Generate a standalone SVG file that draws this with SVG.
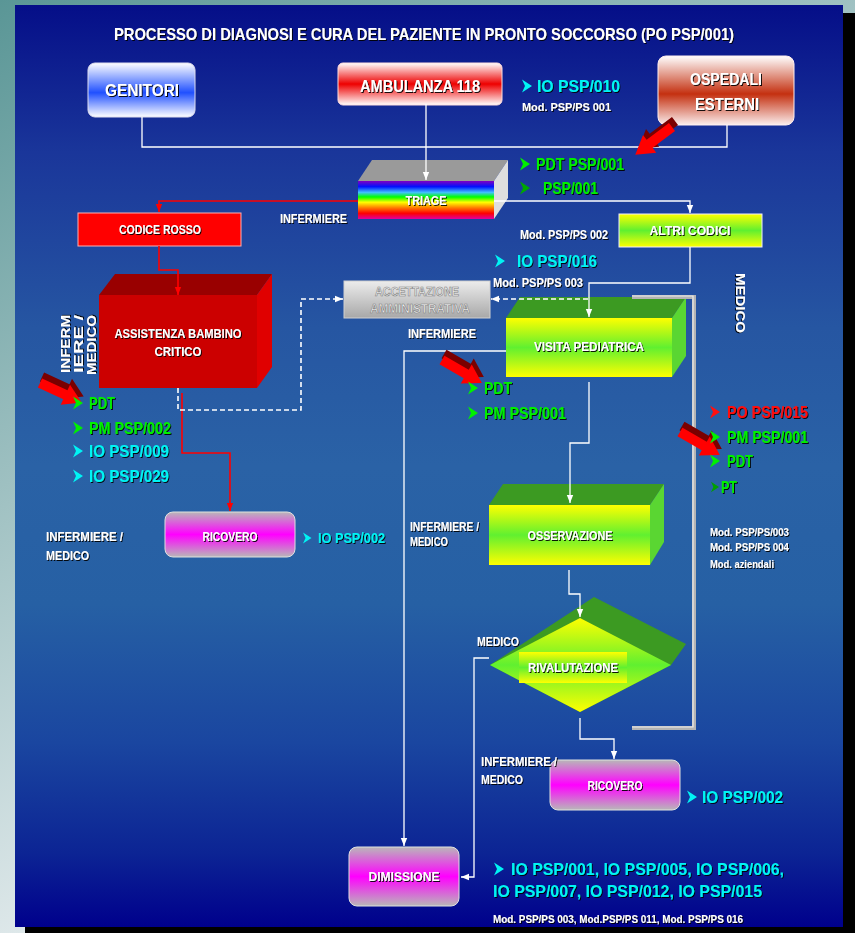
<svg xmlns="http://www.w3.org/2000/svg" xmlns:xlink="http://www.w3.org/1999/xlink" width="855" height="933" viewBox="0 0 855 933">
  <defs>
    <linearGradient id="outer" x1="0" y1="0" x2="0.45" y2="0.85">
      <stop offset="0" stop-color="#5a9696"/>
      <stop offset="1" stop-color="#e8eef0"/>
    </linearGradient>
    <linearGradient id="panel" x1="0" y1="0" x2="0" y2="1">
      <stop offset="0" stop-color="#050e88"/>
      <stop offset="0.16" stop-color="#1a369a"/>
      <stop offset="0.35" stop-color="#2656a2"/>
      <stop offset="0.5" stop-color="#2a62a6"/>
      <stop offset="0.65" stop-color="#2660a4"/>
      <stop offset="0.8" stop-color="#1a46a0"/>
      <stop offset="0.92" stop-color="#0c2494"/>
      <stop offset="1" stop-color="#00008c"/>
    </linearGradient>
    <linearGradient id="gBlue" x1="0" y1="0" x2="0" y2="1">
      <stop offset="0" stop-color="#ffffff"/>
      <stop offset="0.55" stop-color="#2050ff"/>
      <stop offset="1" stop-color="#ffffff"/>
    </linearGradient>
    <linearGradient id="gRed" x1="0" y1="0" x2="0" y2="1">
      <stop offset="0" stop-color="#ffffff"/>
      <stop offset="0.5" stop-color="#ee0000"/>
      <stop offset="1" stop-color="#ffffff"/>
    </linearGradient>
    <linearGradient id="gBrick" x1="0" y1="0" x2="0" y2="1">
      <stop offset="0" stop-color="#ffffff"/>
      <stop offset="0.55" stop-color="#c43010"/>
      <stop offset="1" stop-color="#fbeeee"/>
    </linearGradient>
    <linearGradient id="gMag" x1="0" y1="0" x2="0" y2="1">
      <stop offset="0" stop-color="#b8b8b8"/>
      <stop offset="0.5" stop-color="#ff00ff"/>
      <stop offset="1" stop-color="#b8b8b8"/>
    </linearGradient>
    <linearGradient id="gYG" x1="0" y1="0" x2="0" y2="1">
      <stop offset="0" stop-color="#ffff00"/>
      <stop offset="0.5" stop-color="#60f030"/>
      <stop offset="1" stop-color="#ffff00"/>
    </linearGradient>
    <linearGradient id="gGray" x1="0" y1="0" x2="0" y2="1">
      <stop offset="0" stop-color="#ececec"/>
      <stop offset="1" stop-color="#a8a8a8"/>
    </linearGradient>
    <linearGradient id="rainbow" x1="0" y1="0" x2="0" y2="1">
      <stop offset="0" stop-color="#8000c0"/>
      <stop offset="0.15" stop-color="#0010ff"/>
      <stop offset="0.3" stop-color="#40c0ff"/>
      <stop offset="0.42" stop-color="#00ff00"/>
      <stop offset="0.56" stop-color="#ffff00"/>
      <stop offset="0.7" stop-color="#ff8000"/>
      <stop offset="0.85" stop-color="#ff0000"/>
      <stop offset="1" stop-color="#e000a0"/>
    </linearGradient>
    <filter id="ts" x="-5%" y="-20%" width="110%" height="140%">
      <feDropShadow dx="1" dy="1" stdDeviation="0.3" flood-color="#000" flood-opacity="0.9"/>
    </filter>
    <marker id="aw" viewBox="0 0 10 10" refX="10" refY="5" markerWidth="8" markerHeight="8" orient="auto" markerUnits="userSpaceOnUse">
      <path d="M0,1 L10,5 L0,9 Z" fill="#fff"/>
    </marker>
    <marker id="ar" viewBox="0 0 10 10" refX="10" refY="5" markerWidth="8" markerHeight="8" orient="auto" markerUnits="userSpaceOnUse">
      <path d="M0,1 L10,5 L0,9 Z" fill="#f00"/>
    </marker>
    <!-- bullet arrowhead -->
    <path id="bl" d="M0,-6.5 L10,0 L0,6.5 L3,0 Z"/>
    <!-- block arrow pointing along +x -->
    <polygon id="blk" points="0,-5 28,-5 28,-11 46,0 28,11 28,5 0,5"/>
    <style>
      .t{font-family:"Liberation Sans","DejaVu Sans",sans-serif;font-weight:bold;filter:url(#ts)}
      .w{fill:#fff}
      .c{fill:#00f4f4}
      .g{fill:#00f000}
      .r{fill:#ff1010}
      .s12{font-size:12px}
      .s13{font-size:13px}
      .s17{font-size:17px}
      .s11{font-size:11px}
      .mid{text-anchor:middle}
      .emb{font-family:"Liberation Sans","DejaVu Sans",sans-serif;font-weight:bold;font-size:12px;fill:#f0f0f0;stroke:#808080;stroke-width:0.6;text-anchor:middle}
      .ln{fill:none;stroke:#fff;stroke-width:1.3}
      .lr{fill:none;stroke:#f00;stroke-width:1.6}
      .ld{fill:none;stroke:#fff;stroke-width:1.6;stroke-dasharray:5 3}
      .top{fill:#3c9a22}
      .side{fill:#5ad632}
    </style>
  </defs>

  <!-- page and panel -->
  <rect width="855" height="933" fill="url(#outer)"/>
  <rect x="25" y="13" width="830" height="920" fill="#000"/>
  <rect x="15" y="5" width="828" height="922" fill="url(#panel)"/>

  <text class="t w mid" x="424" y="40" font-size="17" textLength="620" lengthAdjust="spacingAndGlyphs">PROCESSO DI DIAGNOSI E CURA DEL PAZIENTE IN PRONTO SOCCORSO (PO PSP/001)</text>

  <!-- nodes -->
  <g id="genitori">
    <rect x="88" y="63" width="107" height="54" rx="7" fill="url(#gBlue)" stroke="#dde" stroke-width="1"/>
    <text class="t w mid" x="142" y="96" font-size="16" textLength="74" lengthAdjust="spacingAndGlyphs">GENITORI</text>
  </g>
  <g id="ambulanza">
    <rect x="338" y="63" width="164" height="42" rx="5" fill="url(#gRed)" stroke="#fdd" stroke-width="1"/>
    <text class="t w mid" x="420" y="92" font-size="16" textLength="120" lengthAdjust="spacingAndGlyphs">AMBULANZA 118</text>
  </g>
  <g id="ospedali">
    <rect x="658" y="56" width="136" height="69" rx="8" fill="url(#gBrick)" stroke="#fee" stroke-width="1"/>
    <text class="t w mid" x="726" y="85" font-size="16" textLength="72" lengthAdjust="spacingAndGlyphs">OSPEDALI</text>
    <text class="t w mid" x="727" y="110" font-size="16" textLength="64" lengthAdjust="spacingAndGlyphs">ESTERNI</text>
  </g>
  <g id="triage">
    <polygon points="358,181 372,160 508,160 494,181" fill="#9a9a9a"/>
    <polygon points="494,181 508,160 508,198 494,219" fill="#dedede"/>
    <rect x="358" y="181" width="136" height="38" fill="url(#rainbow)"/>
    <text class="t w mid s12" x="426" y="205" textLength="41" lengthAdjust="spacingAndGlyphs">TRIAGE</text>
  </g>
  <g id="codice-rosso">
    <rect x="78" y="213" width="163" height="33" fill="#ff0000" stroke="#ffb0b0" stroke-width="1"/>
    <text class="t w mid s13" x="160" y="234" textLength="82" lengthAdjust="spacingAndGlyphs">CODICE ROSSO</text>
  </g>
  <g id="altri-codici">
    <rect x="619" y="214" width="143" height="33" fill="url(#gYG)" stroke="#eef" stroke-width="1"/>
    <text class="t w mid s12" x="690" y="235" textLength="81" lengthAdjust="spacingAndGlyphs">ALTRI  CODICI</text>
  </g>
  <g id="assistenza">
    <polygon points="99,295 115,274 272,274 257,295" fill="#990000"/>
    <polygon points="257,295 272,274 272,367 257,388" fill="#e00000"/>
    <rect x="99" y="295" width="158" height="93" fill="#cc0000"/>
    <text class="t w mid s13" x="178" y="338" textLength="127" lengthAdjust="spacingAndGlyphs">ASSISTENZA BAMBINO</text>
    <text class="t w mid s13" x="178" y="356" textLength="47" lengthAdjust="spacingAndGlyphs">CRITICO</text>
  </g>
  <g id="accettazione">
    <rect x="344" y="281" width="146" height="37" fill="url(#gGray)" stroke="#d0d0d0" stroke-width="1"/>
    <text class="emb" x="417" y="296" textLength="84" lengthAdjust="spacingAndGlyphs">ACCETTAZIONE</text>
    <text class="emb" x="420" y="313" textLength="100" lengthAdjust="spacingAndGlyphs">AMMINISTRATIVA</text>
  </g>
  <g id="visita">
    <polygon class="top" points="506,318 520,297 686,297 672,318"/>
    <polygon class="side" points="672,318 686,297 686,356 672,377"/>
    <rect x="506" y="318" width="166" height="59" fill="url(#gYG)"/>
    <text class="t w mid s12" x="589" y="351" textLength="110" lengthAdjust="spacingAndGlyphs">VISITA PEDIATRICA</text>
  </g>
  <g id="ricovero-1">
    <rect x="165" y="512" width="130" height="45" rx="8" fill="url(#gMag)" stroke="#e0e0e0" stroke-width="1"/>
    <text class="t w mid s12" x="230" y="541" textLength="55" lengthAdjust="spacingAndGlyphs">RICOVERO</text>
  </g>
  <g id="osservazione">
    <polygon class="top" points="489,505 503,484 664,484 650,505"/>
    <polygon class="side" points="650,505 664,484 664,542 650,565"/>
    <rect x="489" y="505" width="161" height="60" fill="url(#gYG)"/>
    <text class="t w mid s12" x="570" y="540" textLength="85" lengthAdjust="spacingAndGlyphs">OSSERVAZIONE</text>
  </g>
  <g id="rivalutazione">
    <polygon class="top" points="490,665 594,597 686,644 671,665 580,712"/>
    <polygon points="580,618 671,665 580,712 490,665" fill="url(#gYG)"/>
    <rect x="519" y="652" width="108" height="31" fill="url(#gYG)"/>
    <text class="t w mid s12" x="573" y="672" textLength="90" lengthAdjust="spacingAndGlyphs">RIVALUTAZIONE</text>
  </g>
  <g id="ricovero-2">
    <rect x="550" y="760" width="130" height="50" rx="8" fill="url(#gMag)" stroke="#e0e0e0" stroke-width="1"/>
    <text class="t w mid s12" x="615" y="790" textLength="55" lengthAdjust="spacingAndGlyphs">RICOVERO</text>
  </g>
  <g id="dimissione">
    <rect x="349" y="847" width="110" height="59" rx="8" fill="url(#gMag)" stroke="#e0e0e0" stroke-width="1"/>
    <text class="t w mid s12" x="404" y="881" textLength="71" lengthAdjust="spacingAndGlyphs">DIMISSIONE</text>
  </g>

  <!-- connectors -->
  <g id="connectors">
    <path class="ln" d="M142,117 V147 H727 V125"/>
    <path class="ln" d="M426,104 V180" marker-end="url(#aw)"/>
    <path class="lr" d="M358,201 H159 V212" marker-end="url(#ar)"/>
    <path class="lr" d="M159,246 V270 H178 V295" marker-end="url(#ar)"/>
    <path class="lr" d="M182,393 V453 H230 V511" marker-end="url(#ar)"/>
    <path class="ln" d="M494,201 H690 V213" marker-end="url(#aw)"/>
    <path class="ln" d="M690,247 V283 H589 V317" marker-end="url(#aw)"/>
    <path class="ld" d="M178,388 V410 H301 V299 H343" marker-end="url(#aw)"/>
    <path class="ld" d="M588,299 H491" marker-end="url(#aw)"/>
    <path class="ln" d="M506,351 H404 V846" marker-end="url(#aw)"/>
    <path class="ln" d="M589,382 V443 H570 V503" marker-end="url(#aw)"/>
    <path class="ln" d="M569,570 V594 H580 V617" marker-end="url(#aw)"/>
    <path class="ln" d="M489,658 H474 V877 H461" marker-end="url(#aw)"/>
    <path class="ln" d="M580,718 V739 H614 V759" marker-end="url(#aw)"/>
    <path d="M632,297 H694 V728 H632" fill="none" stroke="#b4b4b4" stroke-width="4"/>
    <path d="M632,296 H693 V727 H632" fill="none" stroke="#ececec" stroke-width="1.2"/>
  </g>

  <!-- red pointer arrows -->
  <g id="pointers">
    <use xlink:href="#blk" transform="translate(675,121) rotate(143)" fill="#7a0000"/>
    <use xlink:href="#blk" transform="translate(672,127) rotate(143)" fill="#ff0000"/>
    <use xlink:href="#blk" transform="translate(42,377) rotate(25)" fill="#7a0000"/>
    <use xlink:href="#blk" transform="translate(40,383) rotate(25)" fill="#ff0000"/>
    <use xlink:href="#blk" transform="translate(444,354) rotate(30)" fill="#7a0000"/>
    <use xlink:href="#blk" transform="translate(442,360) rotate(30)" fill="#ff0000"/>
    <use xlink:href="#blk" transform="translate(682,426) rotate(30)" fill="#7a0000"/>
    <use xlink:href="#blk" transform="translate(680,432) rotate(30)" fill="#ff0000"/>
  </g>

  <!-- side labels -->
  <g id="roles">
    <text class="t w s13" x="280" y="223" textLength="67" lengthAdjust="spacingAndGlyphs">INFERMIERE</text>
    <text class="t w s13" x="408" y="338" textLength="68" lengthAdjust="spacingAndGlyphs">INFERMIERE</text>
    <text class="t w s12" transform="translate(736,273) rotate(90)" textLength="60" lengthAdjust="spacingAndGlyphs">MEDICO</text>
    <text class="t w s12" transform="translate(70,373) rotate(-90)" textLength="58" lengthAdjust="spacingAndGlyphs">INFERM</text>
    <text class="t w s12" transform="translate(83,373) rotate(-90)" textLength="58" lengthAdjust="spacingAndGlyphs">IERE /</text>
    <text class="t w s12" transform="translate(96,375) rotate(-90)" textLength="60" lengthAdjust="spacingAndGlyphs">MEDICO</text>
    <text class="t w s12" x="46" y="541" textLength="77" lengthAdjust="spacingAndGlyphs">INFERMIERE /</text>
    <text class="t w s12" x="46" y="560" textLength="43" lengthAdjust="spacingAndGlyphs">MEDICO</text>
    <text class="t w s12" x="410" y="531" textLength="69" lengthAdjust="spacingAndGlyphs">INFERMIERE /</text>
    <text class="t w s12" x="410" y="546" textLength="38" lengthAdjust="spacingAndGlyphs">MEDICO</text>
    <text class="t w s12" x="477" y="646" textLength="42" lengthAdjust="spacingAndGlyphs">MEDICO</text>
    <text class="t w s12" x="481" y="766" textLength="76" lengthAdjust="spacingAndGlyphs">INFERMIERE /</text>
    <text class="t w s12" x="481" y="784" textLength="42" lengthAdjust="spacingAndGlyphs">MEDICO</text>
  </g>

  <!-- document references -->
  <g id="refs">
    <use xlink:href="#bl" x="522" y="86" class="c"/>
    <text class="t c s17" x="537" y="92" textLength="83" lengthAdjust="spacingAndGlyphs">IO PSP/010</text>
    <text class="t w s11" x="522" y="111" textLength="89" lengthAdjust="spacingAndGlyphs">Mod. PSP/PS 001</text>

    <use xlink:href="#bl" x="520" y="164" class="g"/>
    <text class="t g s17" x="536" y="170" textLength="88" lengthAdjust="spacingAndGlyphs">PDT PSP/001</text>
    <use xlink:href="#bl" x="520" y="188" fill="#00a800"/>
    <text class="t g s17" x="543" y="194" textLength="55" lengthAdjust="spacingAndGlyphs">PSP/001</text>

    <text class="t w s12" x="520" y="239" textLength="88" lengthAdjust="spacingAndGlyphs">Mod. PSP/PS 002</text>
    <use xlink:href="#bl" x="495" y="261" class="c"/>
    <text class="t c s17" x="517" y="267" textLength="80" lengthAdjust="spacingAndGlyphs">IO PSP/016</text>
    <text class="t w s12" x="493" y="287" textLength="90" lengthAdjust="spacingAndGlyphs">Mod. PSP/PS 003</text>

    <use xlink:href="#bl" x="73" y="403" class="g"/>
    <text class="t g s17" x="89" y="409" textLength="26" lengthAdjust="spacingAndGlyphs">PDT</text>
    <use xlink:href="#bl" x="73" y="428" class="g"/>
    <text class="t g s17" x="89" y="434" textLength="82" lengthAdjust="spacingAndGlyphs">PM PSP/002</text>
    <use xlink:href="#bl" x="73" y="451" class="c"/>
    <text class="t c s17" x="89" y="457" textLength="80" lengthAdjust="spacingAndGlyphs">IO PSP/009</text>
    <use xlink:href="#bl" x="73" y="476" class="c"/>
    <text class="t c s17" x="89" y="482" textLength="80" lengthAdjust="spacingAndGlyphs">IO PSP/029</text>

    <use xlink:href="#bl" x="468" y="388" class="g"/>
    <text class="t g s17" x="484" y="394" textLength="28" lengthAdjust="spacingAndGlyphs">PDT</text>
    <use xlink:href="#bl" x="468" y="413" class="g"/>
    <text class="t g s17" x="484" y="419" textLength="82" lengthAdjust="spacingAndGlyphs">PM PSP/001</text>

    <use xlink:href="#bl" x="710" y="412" class="r"/>
    <text class="t r s17" x="727" y="418" textLength="81" lengthAdjust="spacingAndGlyphs">PO PSP/015</text>
    <use xlink:href="#bl" x="710" y="437" class="g"/>
    <text class="t g s17" x="727" y="443" textLength="81" lengthAdjust="spacingAndGlyphs">PM PSP/001</text>
    <use xlink:href="#bl" x="710" y="461" class="g"/>
    <text class="t g s17" x="727" y="467" textLength="26" lengthAdjust="spacingAndGlyphs">PDT</text>
    <use xlink:href="#bl" x="711" y="487" fill="#00a000" transform="translate(711,487) scale(0.8) translate(-711,-487)"/>
    <text class="t g s17" x="721" y="493" textLength="16" lengthAdjust="spacingAndGlyphs">PT</text>
    <text class="t w s11" x="710" y="536" textLength="79" lengthAdjust="spacingAndGlyphs">Mod. PSP/PS/003</text>
    <text class="t w s11" x="710" y="551" textLength="79" lengthAdjust="spacingAndGlyphs">Mod. PSP/PS 004</text>
    <text class="t w s11" x="710" y="568" textLength="64" lengthAdjust="spacingAndGlyphs">Mod. aziendali</text>

    <use xlink:href="#bl" x="303" y="538" class="c" transform="translate(303,538) scale(0.85) translate(-303,-538)"/>
    <text class="t c" font-size="14" x="318" y="543" textLength="67" lengthAdjust="spacingAndGlyphs">IO PSP/002</text>

    <use xlink:href="#bl" x="687" y="797" class="c"/>
    <text class="t c s17" x="702" y="803" textLength="81" lengthAdjust="spacingAndGlyphs">IO PSP/002</text>

    <use xlink:href="#bl" x="494" y="869" class="c"/>
    <text class="t c s17" x="511" y="875" textLength="273" lengthAdjust="spacingAndGlyphs">IO PSP/001, IO PSP/005, IO PSP/006,</text>
    <text class="t c s17" x="493" y="897" textLength="269" lengthAdjust="spacingAndGlyphs">IO PSP/007, IO PSP/012, IO PSP/015</text>
    <text class="t w s11" x="493" y="923" textLength="250" lengthAdjust="spacingAndGlyphs">Mod. PSP/PS 003, Mod.PSP/PS 011, Mod. PSP/PS 016</text>
  </g>
</svg>
